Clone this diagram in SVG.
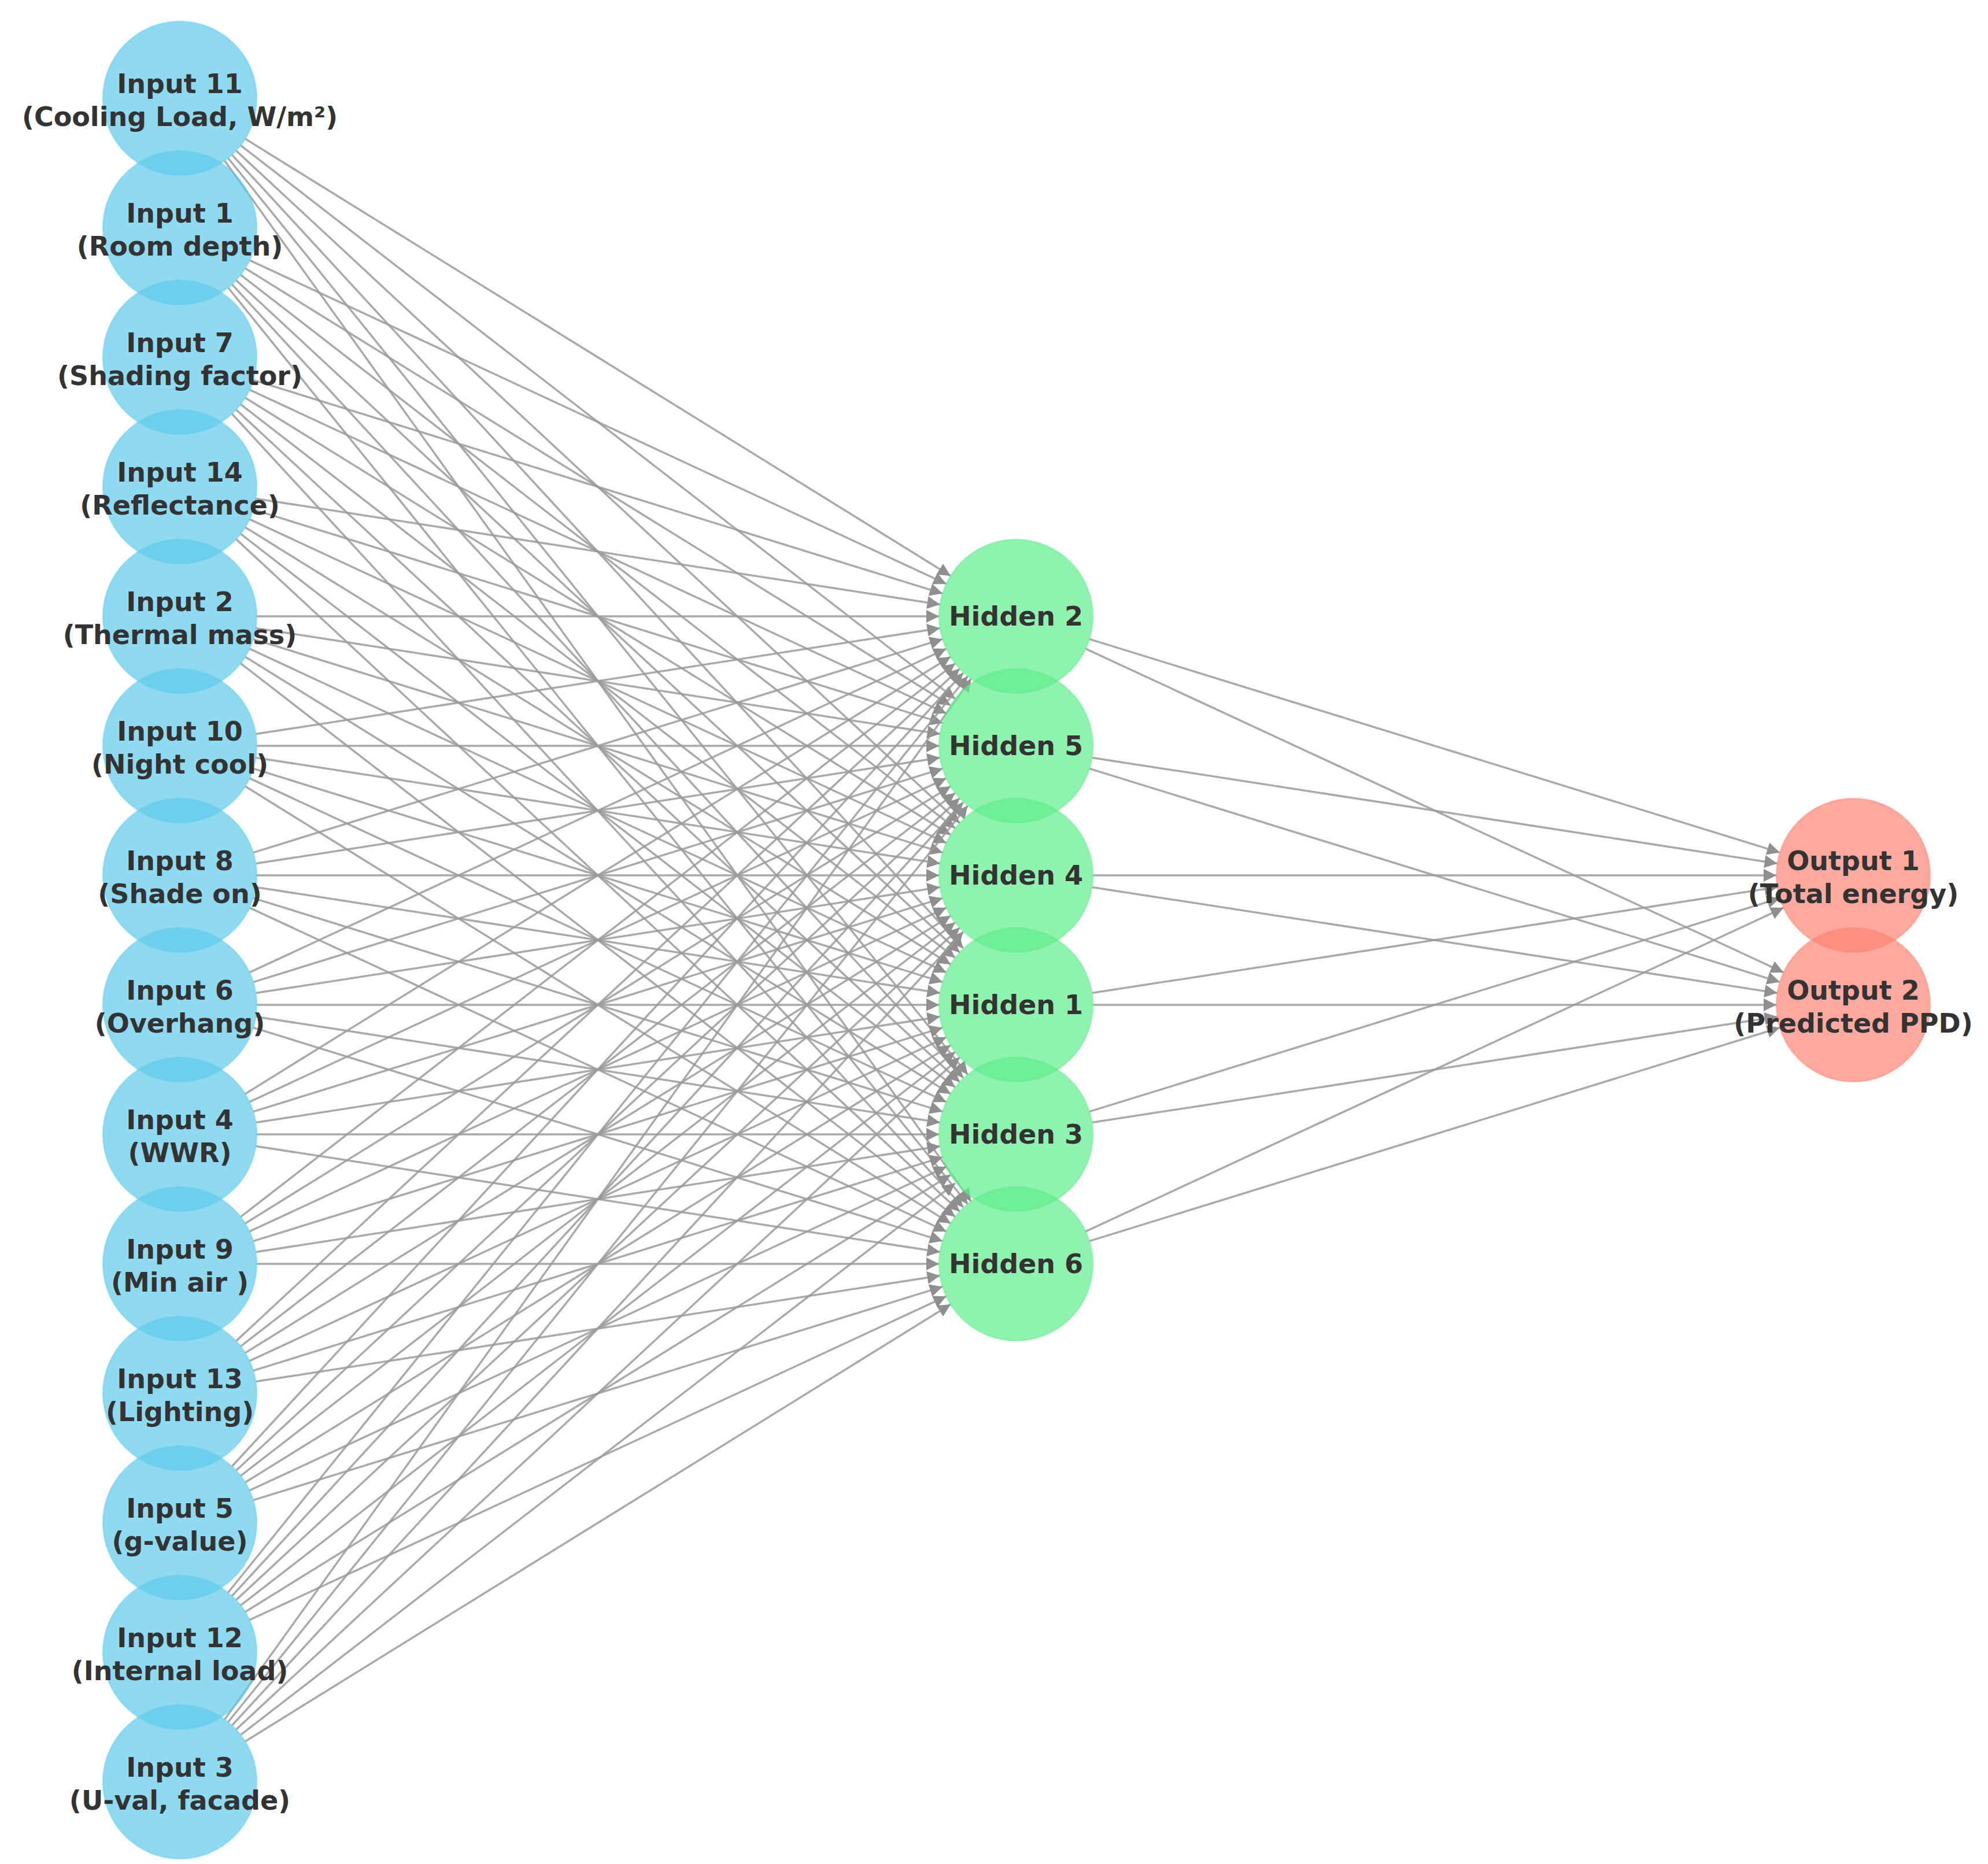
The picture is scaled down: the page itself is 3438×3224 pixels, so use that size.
<svg xmlns="http://www.w3.org/2000/svg" width="3438" height="3224" viewBox="0 0 3438 3224">
<defs>
<marker id="ah" viewBox="0 0 10 10" refX="10" refY="5" markerWidth="30" markerHeight="22" markerUnits="userSpaceOnUse" orient="auto"><path d="M0,0 L10,5 L0,10 z" fill="#8f8f8f"/></marker>
<style>
.e line{stroke:#9a9a9a;stroke-width:3.5;stroke-opacity:0.85;marker-end:url(#ah)}
.in{fill:#5fcbeb;fill-opacity:0.7;stroke:#5fcbeb;stroke-opacity:0.4;stroke-width:3}
.hd{fill:#5fec8c;fill-opacity:0.7;stroke:#5fec8c;stroke-opacity:0.4;stroke-width:3}
.ou{fill:#fd8576;fill-opacity:0.7;stroke:#fd8576;stroke-opacity:0.4;stroke-width:3}
text{font-family:"DejaVu Sans",sans-serif;font-weight:bold;font-size:46px;text-anchor:middle;fill:#333}
</style>
</defs>
<rect width="3438" height="3224" fill="#fff"/>
<g id="connectors" class="e">
<line x1="424.1" y1="240.1" x2="1643.9" y2="995.9"/><line x1="416.2" y1="251.4" x2="1651.8" y2="1208.6"/><line x1="408.4" y1="260.6" x2="1659.6" y2="1423.4"/><line x1="401.2" y1="267.8" x2="1665.8" y2="1640.2"/><line x1="394.5" y1="273.5" x2="1673.5" y2="1858.5"/><line x1="388.5" y1="278.1" x2="1679.5" y2="2077.9"/>
<line x1="431.6" y1="450.1" x2="1636.4" y2="1009.9"/><line x1="424.1" y1="464.1" x2="1643.9" y2="1219.9"/><line x1="416.2" y1="475.4" x2="1651.8" y2="1432.6"/><line x1="408.4" y1="484.6" x2="1659.6" y2="1647.4"/><line x1="401.2" y1="491.8" x2="1665.8" y2="1864.2"/><line x1="394.5" y1="497.5" x2="1673.5" y2="2082.5"/>
<line x1="438" y1="657.4" x2="1630" y2="1026.6"/><line x1="431.6" y1="674.1" x2="1636.4" y2="1233.9"/><line x1="424.1" y1="688.1" x2="1643.9" y2="1443.9"/><line x1="416.2" y1="699.4" x2="1651.8" y2="1656.6"/><line x1="408.4" y1="708.6" x2="1659.6" y2="1871.4"/><line x1="401.2" y1="715.8" x2="1665.8" y2="2088.2"/>
<line x1="442.4" y1="862.4" x2="1625.6" y2="1045.6"/><line x1="438" y1="881.4" x2="1630" y2="1250.6"/><line x1="431.6" y1="898.1" x2="1636.4" y2="1457.9"/><line x1="424.1" y1="912.1" x2="1643.9" y2="1667.9"/><line x1="416.2" y1="923.4" x2="1651.8" y2="1880.6"/><line x1="408.4" y1="932.6" x2="1659.6" y2="2095.4"/>
<line x1="444" y1="1066" x2="1624" y2="1066"/><line x1="442.4" y1="1086.4" x2="1625.6" y2="1269.6"/><line x1="438" y1="1105.4" x2="1630" y2="1474.6"/><line x1="431.6" y1="1122.1" x2="1636.4" y2="1681.9"/><line x1="424.1" y1="1136.1" x2="1643.9" y2="1891.9"/><line x1="416.2" y1="1147.4" x2="1651.8" y2="2104.6"/>
<line x1="442.4" y1="1269.6" x2="1625.6" y2="1086.4"/><line x1="444" y1="1290" x2="1624" y2="1290"/><line x1="442.4" y1="1310.4" x2="1625.6" y2="1493.6"/><line x1="438" y1="1329.4" x2="1630" y2="1698.6"/><line x1="431.6" y1="1346.1" x2="1636.4" y2="1905.9"/><line x1="424.1" y1="1360.1" x2="1643.9" y2="2115.9"/>
<line x1="438" y1="1474.6" x2="1630" y2="1105.4"/><line x1="442.4" y1="1493.6" x2="1625.6" y2="1310.4"/><line x1="444" y1="1514" x2="1624" y2="1514"/><line x1="442.4" y1="1534.4" x2="1625.6" y2="1717.6"/><line x1="438" y1="1553.4" x2="1630" y2="1922.6"/><line x1="431.6" y1="1570.1" x2="1636.4" y2="2129.9"/>
<line x1="431.6" y1="1681.9" x2="1636.4" y2="1122.1"/><line x1="438" y1="1698.6" x2="1630" y2="1329.4"/><line x1="442.4" y1="1717.6" x2="1625.6" y2="1534.4"/><line x1="444" y1="1738" x2="1624" y2="1738"/><line x1="442.4" y1="1758.4" x2="1625.6" y2="1941.6"/><line x1="438" y1="1777.4" x2="1630" y2="2146.6"/>
<line x1="424.1" y1="1891.9" x2="1643.9" y2="1136.1"/><line x1="431.6" y1="1905.9" x2="1636.4" y2="1346.1"/><line x1="438" y1="1922.6" x2="1630" y2="1553.4"/><line x1="442.4" y1="1941.6" x2="1625.6" y2="1758.4"/><line x1="444" y1="1962" x2="1624" y2="1962"/><line x1="442.4" y1="1982.4" x2="1625.6" y2="2165.6"/>
<line x1="416.2" y1="2104.6" x2="1651.8" y2="1147.4"/><line x1="424.1" y1="2115.9" x2="1643.9" y2="1360.1"/><line x1="431.6" y1="2129.9" x2="1636.4" y2="1570.1"/><line x1="438" y1="2146.6" x2="1630" y2="1777.4"/><line x1="442.4" y1="2165.6" x2="1625.6" y2="1982.4"/><line x1="444" y1="2186" x2="1624" y2="2186"/>
<line x1="408.4" y1="2319.4" x2="1659.6" y2="1156.6"/><line x1="416.2" y1="2328.6" x2="1651.8" y2="1371.4"/><line x1="424.1" y1="2339.9" x2="1643.9" y2="1584.1"/><line x1="431.6" y1="2353.9" x2="1636.4" y2="1794.1"/><line x1="438" y1="2370.6" x2="1630" y2="2001.4"/><line x1="442.4" y1="2389.6" x2="1625.6" y2="2206.4"/>
<line x1="401.2" y1="2536.2" x2="1665.8" y2="1163.8"/><line x1="408.4" y1="2543.4" x2="1659.6" y2="1380.6"/><line x1="416.2" y1="2552.6" x2="1651.8" y2="1595.4"/><line x1="424.1" y1="2563.9" x2="1643.9" y2="1808.1"/><line x1="431.6" y1="2577.9" x2="1636.4" y2="2018.1"/><line x1="438" y1="2594.6" x2="1630" y2="2225.4"/>
<line x1="394.5" y1="2754.5" x2="1673.5" y2="1169.5"/><line x1="401.2" y1="2760.2" x2="1665.8" y2="1387.8"/><line x1="408.4" y1="2767.4" x2="1659.6" y2="1604.6"/><line x1="416.2" y1="2776.6" x2="1651.8" y2="1819.4"/><line x1="424.1" y1="2787.9" x2="1643.9" y2="2032.1"/><line x1="431.6" y1="2801.9" x2="1636.4" y2="2242.1"/>
<line x1="388.5" y1="2973.9" x2="1679.5" y2="1174.1"/><line x1="394.5" y1="2978.5" x2="1673.5" y2="1393.5"/><line x1="401.2" y1="2984.2" x2="1665.8" y2="1611.8"/><line x1="408.4" y1="2991.4" x2="1659.6" y2="1828.6"/><line x1="416.2" y1="3000.6" x2="1651.8" y2="2046.6"/><line x1="424.1" y1="3011.9" x2="1643.9" y2="2256.1"/>
<line x1="1884" y1="1105.4" x2="3078" y2="1474.6"/><line x1="1877.6" y1="1122.1" x2="3084.4" y2="1681.9"/>
<line x1="1888.4" y1="1310.4" x2="3073.6" y2="1493.6"/><line x1="1884" y1="1329.4" x2="3078" y2="1698.6"/>
<line x1="1890" y1="1514" x2="3072" y2="1514"/><line x1="1888.4" y1="1534.4" x2="3073.6" y2="1717.6"/>
<line x1="1888.4" y1="1717.6" x2="3073.6" y2="1534.4"/><line x1="1890" y1="1738" x2="3072" y2="1738"/>
<line x1="1884" y1="1922.6" x2="3078" y2="1553.4"/><line x1="1888.4" y1="1941.6" x2="3073.6" y2="1758.4"/>
<line x1="1877.6" y1="2129.9" x2="3084.4" y2="1570.1"/><line x1="1884" y1="2146.6" x2="3078" y2="1777.4"/>
</g>
<g id="input11"><circle class="in" cx="311" cy="170" r="133"/><text x="311" y="161">Input 11</text><text x="311" y="218">(Cooling Load, W/m²)</text></g>
<g id="input1"><circle class="in" cx="311" cy="394" r="133"/><text x="311" y="385">Input 1</text><text x="311" y="442">(Room depth)</text></g>
<g id="input7"><circle class="in" cx="311" cy="618" r="133"/><text x="311" y="609">Input 7</text><text x="311" y="666">(Shading factor)</text></g>
<g id="input14"><circle class="in" cx="311" cy="842" r="133"/><text x="311" y="833">Input 14</text><text x="311" y="890">(Reflectance)</text></g>
<g id="input2"><circle class="in" cx="311" cy="1066" r="133"/><text x="311" y="1057">Input 2</text><text x="311" y="1114">(Thermal mass)</text></g>
<g id="input10"><circle class="in" cx="311" cy="1290" r="133"/><text x="311" y="1281">Input 10</text><text x="311" y="1338">(Night cool)</text></g>
<g id="input8"><circle class="in" cx="311" cy="1514" r="133"/><text x="311" y="1505">Input 8</text><text x="311" y="1562">(Shade on)</text></g>
<g id="input6"><circle class="in" cx="311" cy="1738" r="133"/><text x="311" y="1729">Input 6</text><text x="311" y="1786">(Overhang)</text></g>
<g id="input4"><circle class="in" cx="311" cy="1962" r="133"/><text x="311" y="1953">Input 4</text><text x="311" y="2010">(WWR)</text></g>
<g id="input9"><circle class="in" cx="311" cy="2186" r="133"/><text x="311" y="2177">Input 9</text><text x="311" y="2234">(Min air )</text></g>
<g id="input13"><circle class="in" cx="311" cy="2410" r="133"/><text x="311" y="2401">Input 13</text><text x="311" y="2458">(Lighting)</text></g>
<g id="input5"><circle class="in" cx="311" cy="2634" r="133"/><text x="311" y="2625">Input 5</text><text x="311" y="2682">(g-value)</text></g>
<g id="input12"><circle class="in" cx="311" cy="2858" r="133"/><text x="311" y="2849">Input 12</text><text x="311" y="2906">(Internal load)</text></g>
<g id="input3"><circle class="in" cx="311" cy="3082" r="133"/><text x="311" y="3073">Input 3</text><text x="311" y="3130">(U-val, facade)</text></g>
<g id="hidden2"><circle class="hd" cx="1757" cy="1066" r="133"/><text x="1757" y="1082">Hidden 2</text></g>
<g id="hidden5"><circle class="hd" cx="1757" cy="1290" r="133"/><text x="1757" y="1306">Hidden 5</text></g>
<g id="hidden4"><circle class="hd" cx="1757" cy="1514" r="133"/><text x="1757" y="1530">Hidden 4</text></g>
<g id="hidden1"><circle class="hd" cx="1757" cy="1738" r="133"/><text x="1757" y="1754">Hidden 1</text></g>
<g id="hidden3"><circle class="hd" cx="1757" cy="1962" r="133"/><text x="1757" y="1978">Hidden 3</text></g>
<g id="hidden6"><circle class="hd" cx="1757" cy="2186" r="133"/><text x="1757" y="2202">Hidden 6</text></g>
<g id="output1"><circle class="ou" cx="3205" cy="1514" r="133"/><text x="3205" y="1505">Output 1</text><text x="3205" y="1562">(Total energy)</text></g>
<g id="output2"><circle class="ou" cx="3205" cy="1738" r="133"/><text x="3205" y="1729">Output 2</text><text x="3205" y="1786">(Predicted PPD)</text></g>
</svg>
